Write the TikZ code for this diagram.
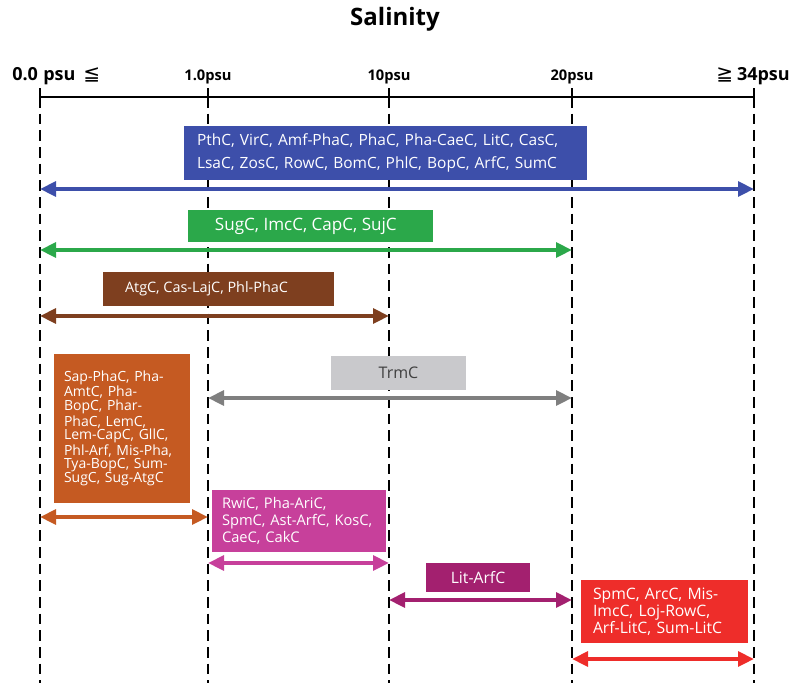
\documentclass[tikz,border=0pt]{standalone}
\usepackage{fontspec}
\setmainfont{Open Sans}
\newfontfamily\symfont{DejaVu Sans}
\usetikzlibrary{arrows.meta}
\definecolor{cblue}{HTML}{3D4FAA}
\definecolor{cgreen}{HTML}{2BA84A}
\definecolor{cbrown}{HTML}{7E3F1F}
\definecolor{cgraybox}{HTML}{C9C9CC}
\definecolor{cgrayarr}{HTML}{7F7F7F}
\definecolor{corange}{HTML}{C55A22}
\definecolor{cpink}{HTML}{C7409B}
\definecolor{cpurple}{HTML}{A3206F}
\definecolor{cred}{HTML}{EE2D2A}
\tikzset{
  box/.style={fill=#1, draw=none, text=white, inner ysep=0pt, align=left,
    font=\fontsize{11}{17}\selectfont},
  range/.style={draw=#1, line width=3pt, {Triangle[length=12pt,width=11pt]}-{Triangle[length=12pt,width=11pt]}},
  guide/.style={line width=1.5pt, dash pattern=on 8pt off 4.5pt},
  axislab/.style={font=\bfseries\fontsize{11}{14}\selectfont, inner sep=0pt},
  endlab/.style={font=\bfseries\fontsize{13.5}{15}\selectfont, inner sep=0pt},
}
\newcommand{\rel}[1]{{\symfont\mdseries\fontsize{15}{15}\selectfont #1}}
\begin{document}
\begin{tikzpicture}[x=0.75pt,y=-0.75pt]
\useasboundingbox (0,0) rectangle (795,683);
% title
\node[font=\bfseries\fontsize{18}{20}\selectfont, inner sep=0pt] (title) at (395,19) {Salinity};
% ticks
\foreach \n/\x in {t0/40,t1/208,t2/389,t3/572,t4/754}{
  \coordinate (\n) at (\x,97);
  \coordinate (\n b) at (\x,683);
}
% dashed guides
\foreach \n in {t0,t1,t2,t3,t4}{
  \draw[guide] (\n) -- (\n b);
}
% axis
\draw[line width=1.5pt] (t0) -- (t4);
\foreach \n in {t0,t1,t2,t3,t4}{
  \draw[line width=1.5pt] ([yshift=9*0.75pt]\n) -- ([yshift=-9*0.75pt]\n);
}
% axis labels
\node[endlab, anchor=base west] (l0) at (12,80) {0.0\hspace{4pt}psu\hspace{6pt}\rel{≦}};
\node[axislab, anchor=base] (l1) at (208,80) {1.0psu};
\node[axislab, anchor=base] (l2) at (389,80) {10psu};
\node[axislab, anchor=base] (l3) at (572,80) {20psu};
\node[endlab, anchor=base east] (l4) at (790,80) {\rel{≧}\hspace{3pt}34psu};

% boxes
\node[box=cblue, inner xsep=13*0.75pt, text width=377*0.75pt, minimum height=54*0.75pt,
  font=\fontsize{11.6}{17}\selectfont] (b1) at (385.5,153)
  {PthC, VirC, Amf-PhaC, PhaC, Pha-CaeC, LitC, CasC,\\LsaC, ZosC, RowC, BomC, PhlC, BopC, ArfC, SumC};
\node[box=cgreen, inner xsep=0pt, minimum width=245*0.75pt, minimum height=32*0.75pt,
  font=\fontsize{12.8}{15}\selectfont] (b2) at (310.5,226)
  {SugC, ImcC, CapC, SujC\hspace{7pt}};
\node[box=cbrown, inner xsep=0pt, minimum width=231*0.75pt, minimum height=34*0.75pt,
  font=\fontsize{10.8}{15}\selectfont] (b3) at (218.5,289)
  {AtgC, Cas-LajC, Phl-PhaC\hspace{18pt}};
\node[box=cgraybox, text=black!75, inner xsep=0pt, minimum width=135*0.75pt, minimum height=34*0.75pt,
  font=\fontsize{12}{15}\selectfont] (b4) at (398.5,373)
  {TrmC};
\node[box=corange, inner xsep=10*0.75pt, text width=116*0.75pt, minimum height=149*0.75pt,
  font=\fontsize{10.5}{10.3}\selectfont] (b5) at (122,428.5)
  {Sap-PhaC, Pha-\\AmtC, Pha-\\BopC, Phar-\\PhaC, LemC,\\Lem-CapC, GllC,\\Phl-Arf, Mis-Pha,\\Tya-BopC, Sum-\\SugC, Sug-AtgC};
\node[box=cpink, inner xsep=10*0.75pt, text width=154*0.75pt, minimum height=62*0.75pt,
  font=\fontsize{11}{12.8}\selectfont] (b6) at (299,521)
  {RwiC, Pha-AriC,\\SpmC, Ast-ArfC, KosC,\\CaeC, CakC};
\node[box=cpurple, inner xsep=0pt, minimum width=104*0.75pt, minimum height=29*0.75pt,
  font=\fontsize{11.8}{15}\selectfont] (b7) at (478,577.5)
  {Lit-ArfC};
\node[box=cred, inner xsep=12*0.75pt, text width=143*0.75pt, minimum height=63*0.75pt,
  font=\fontsize{11.8}{12.8}\selectfont] (b8) at (664.5,611.5)
  {SpmC, ArcC, Mis-\\ImcC, Loj-RowC,\\Arf-LitC, Sum-LitC};

% range arrows
\foreach \n/\y in {1/189,2/250,3/316,4/398,5/517,6/563,7/600,8/659}{
  \foreach \t/\x in {t0/40,t1/208,t2/389,t3/572,t4/754}{
    \coordinate (r\n\t) at (\x,\y);
  }
}
\draw[range=cblue] (r1t0) -- (r1t4);
\draw[range=cgreen] (r2t0) -- (r2t3);
\draw[range=cbrown] (r3t0) -- (r3t2);
\draw[range=cgrayarr] (r4t1) -- (r4t3);
\draw[range=corange] (r5t0) -- (r5t1);
\draw[range=cpink] (r6t1) -- (r6t2);
\draw[range=cpurple] (r7t2) -- (r7t3);
\draw[range=cred] (r8t3) -- (r8t4);
\end{tikzpicture}
\end{document}
